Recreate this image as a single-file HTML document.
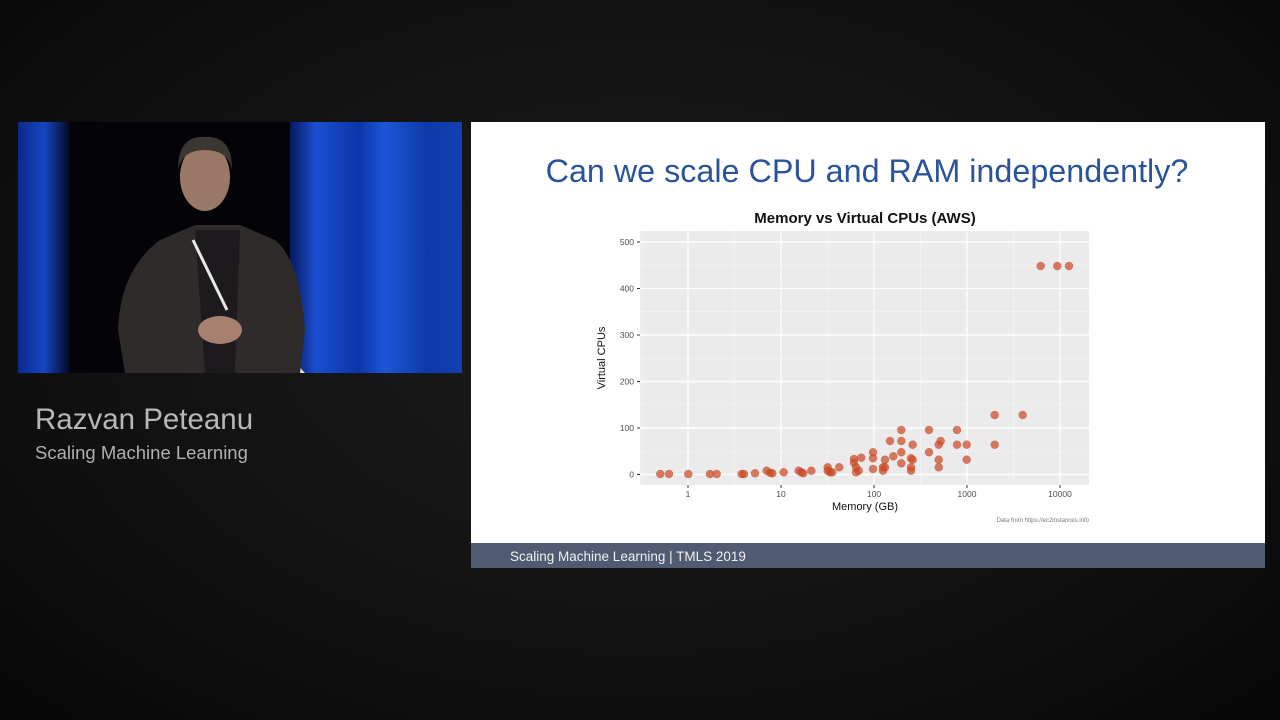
<!DOCTYPE html>
<html><head><meta charset="utf-8"><style>
html,body{margin:0;padding:0;}
body{width:1280px;height:720px;overflow:hidden;background:radial-gradient(ellipse at 50% 45%,#1c1c1c 0%,#111 60%,#070707 100%);font-family:"Liberation Sans",sans-serif;position:relative;}
.name{position:absolute;left:35px;top:403px;color:#b8b8b8;font-size:29.5px;}
.sub{position:absolute;left:35px;top:442px;color:#b0b0b0;font-size:18.5px;}
</style></head><body>
<svg width="1280" height="720" style="position:absolute;left:0;top:0">
<defs>
<linearGradient id="cl" x1="0" x2="1"><stop offset="0" stop-color="#0a2a8a"/><stop offset="0.5" stop-color="#1646c0"/><stop offset="1" stop-color="#020820"/></linearGradient>
<linearGradient id="cr" x1="0" x2="1"><stop offset="0" stop-color="#061a60"/><stop offset="0.15" stop-color="#1a4ed0"/><stop offset="0.4" stop-color="#0c36a8"/><stop offset="0.55" stop-color="#1c56d8"/><stop offset="0.8" stop-color="#0e3aa8"/><stop offset="1" stop-color="#1240b0"/></linearGradient>
</defs>
<rect x="18" y="122" width="444" height="251" fill="#030308"/>
<rect x="18" y="122" width="52" height="251" fill="url(#cl)"/>
<rect x="290" y="122" width="172" height="251" fill="url(#cr)"/>
<path d="M140 373 L150 355 L160 373Z M270 373 L280 345 L305 373Z" fill="#e8dcb0"/>
<path d="M118 330 Q120 270 160 240 L195 225 L240 225 L275 240 Q300 260 305 330 L300 373 L125 373Z" fill="#2e2b2a"/>
<path d="M195 230 L240 230 L235 373 L205 373Z" fill="#1c1a1c"/>
<ellipse cx="205" cy="177" rx="25" ry="34" fill="#9a7868"/>
<path d="M178 170 Q178 135 205 137 Q232 135 232 170 Q228 150 205 150 Q182 150 178 170Z" fill="#3a3632"/>
<ellipse cx="220" cy="330" rx="22" ry="14" fill="#a88070"/>
<line x1="193" y1="240" x2="227" y2="310" stroke="#e8e8e8" stroke-width="3"/>
<rect x="471" y="122" width="794" height="446" fill="#ffffff"/>
<rect x="471" y="543" width="794" height="25" fill="#4f5b70"/>
<text x="510" y="561" font-family="Liberation Sans,sans-serif" font-size="13.5" fill="#f0f0f0">Scaling Machine Learning | TMLS 2019</text>
<text x="867" y="182" text-anchor="middle" font-family="Liberation Sans,sans-serif" font-size="32.3" fill="#2a5499">Can we scale CPU and RAM independently?</text>
<text x="865" y="223" text-anchor="middle" font-family="Liberation Sans,sans-serif" font-size="15" font-weight="bold" fill="#111">Memory vs Virtual CPUs (AWS)</text>
<rect x="640" y="231" width="449" height="254" fill="#ebebeb"/>
<g stroke="#f7f7f7" stroke-width="0.6">
<line x1="640" x2="1089" y1="451.25" y2="451.25"/><line x1="640" x2="1089" y1="404.75" y2="404.75"/><line x1="640" x2="1089" y1="358.25" y2="358.25"/><line x1="640" x2="1089" y1="311.75" y2="311.75"/><line x1="640" x2="1089" y1="265.25" y2="265.25"/>
<line y1="231" y2="485" x1="641.5" x2="641.5"/><line y1="231" y2="485" x1="734.5" x2="734.5"/><line y1="231" y2="485" x1="827.5" x2="827.5"/><line y1="231" y2="485" x1="920.5" x2="920.5"/><line y1="231" y2="485" x1="1013.5" x2="1013.5"/>
</g>
<g stroke="#ffffff" stroke-width="1.2">
<line x1="640" x2="1089" y1="474.5" y2="474.5"/><line x1="640" x2="1089" y1="428" y2="428"/><line x1="640" x2="1089" y1="381.5" y2="381.5"/><line x1="640" x2="1089" y1="335" y2="335"/><line x1="640" x2="1089" y1="288.5" y2="288.5"/><line x1="640" x2="1089" y1="242" y2="242"/>
<line y1="231" y2="485" x1="688" x2="688"/><line y1="231" y2="485" x1="781" x2="781"/><line y1="231" y2="485" x1="874" x2="874"/><line y1="231" y2="485" x1="967" x2="967"/><line y1="231" y2="485" x1="1060" x2="1060"/>
</g>
<g stroke="#333" stroke-width="1">
<line x1="637" x2="640" y1="474.5" y2="474.5"/><line x1="637" x2="640" y1="428" y2="428"/><line x1="637" x2="640" y1="381.5" y2="381.5"/><line x1="637" x2="640" y1="335" y2="335"/><line x1="637" x2="640" y1="288.5" y2="288.5"/><line x1="637" x2="640" y1="242" y2="242"/>
<line y1="485" y2="488" x1="688" x2="688"/><line y1="485" y2="488" x1="781" x2="781"/><line y1="485" y2="488" x1="874" x2="874"/><line y1="485" y2="488" x1="967" x2="967"/><line y1="485" y2="488" x1="1060" x2="1060"/>
</g>
<g font-family="Liberation Sans,sans-serif" font-size="8.5" fill="#4d4d4d" text-anchor="end">
<text x="634" y="477.5">0</text><text x="634" y="431">100</text><text x="634" y="384.5">200</text><text x="634" y="338">300</text><text x="634" y="291.5">400</text><text x="634" y="245">500</text>
</g>
<g font-family="Liberation Sans,sans-serif" font-size="8.5" fill="#4d4d4d" text-anchor="middle">
<text x="688" y="497">1</text><text x="781" y="497">10</text><text x="874" y="497">100</text><text x="967" y="497">1000</text><text x="1060" y="497">10000</text>
</g>
<text x="865" y="510" text-anchor="middle" font-family="Liberation Sans,sans-serif" font-size="11" fill="#111">Memory (GB)</text>
<text transform="translate(605,358) rotate(-90)" text-anchor="middle" font-family="Liberation Sans,sans-serif" font-size="11" fill="#111">Virtual CPUs</text>
<text x="1089" y="522" text-anchor="end" font-family="Liberation Sans,sans-serif" font-size="6" fill="#777">Data from https://ec2instances.info</text>
<g fill="#cc4a25" fill-opacity="0.72" stroke="#b8401f" stroke-opacity="0.5" stroke-width="0.5">
<circle cx="660.3" cy="474" r="4"/><circle cx="669" cy="474" r="4"/><circle cx="688.3" cy="474" r="4"/><circle cx="710" cy="474" r="4"/><circle cx="716.7" cy="474" r="4"/><circle cx="741.7" cy="474" r="4"/><circle cx="744" cy="474" r="4"/>
<circle cx="755" cy="473.3" r="4"/><circle cx="766.7" cy="470.7" r="4"/><circle cx="770" cy="472.7" r="4"/><circle cx="772.3" cy="473.3" r="4"/><circle cx="783.7" cy="472.3" r="4"/><circle cx="798.7" cy="470.7" r="4"/><circle cx="801.3" cy="472.3" r="4"/><circle cx="803.3" cy="473.3" r="4"/><circle cx="811.3" cy="470.7" r="4"/>
<circle cx="827.7" cy="467.3" r="4"/><circle cx="827.7" cy="470.7" r="4"/><circle cx="830" cy="472.3" r="4"/><circle cx="832.3" cy="472.3" r="4"/><circle cx="839.3" cy="467.3" r="4"/>
<circle cx="854" cy="459" r="4"/><circle cx="854" cy="462.7" r="4"/><circle cx="856" cy="467.3" r="4"/><circle cx="856" cy="472.3" r="4"/><circle cx="858.7" cy="470.7" r="4"/><circle cx="861.3" cy="457.7" r="4"/>
<circle cx="873" cy="452.3" r="4"/><circle cx="873" cy="458.3" r="4"/><circle cx="873" cy="469" r="4"/><circle cx="883" cy="467.3" r="4"/><circle cx="883" cy="470.7" r="4"/><circle cx="885" cy="459.7" r="4"/><circle cx="885" cy="467.3" r="4"/>
<circle cx="890" cy="441" r="4"/><circle cx="893.3" cy="456.3" r="4"/><circle cx="901.3" cy="430" r="4"/><circle cx="901.3" cy="441" r="4"/><circle cx="901.3" cy="452.3" r="4"/><circle cx="901.3" cy="463.3" r="4"/>
<circle cx="911" cy="458.3" r="4"/><circle cx="911" cy="467.3" r="4"/><circle cx="911" cy="470.7" r="4"/><circle cx="912.7" cy="444.7" r="4"/><circle cx="912.7" cy="459.7" r="4"/>
<circle cx="929" cy="430" r="4"/><circle cx="929" cy="452.3" r="4"/><circle cx="938.7" cy="444.7" r="4"/><circle cx="938.7" cy="459.7" r="4"/><circle cx="938.7" cy="467.3" r="4"/><circle cx="940.7" cy="441" r="4"/>
<circle cx="957" cy="430" r="4"/><circle cx="957" cy="444.7" r="4"/><circle cx="966.7" cy="444.7" r="4"/><circle cx="966.7" cy="459.7" r="4"/>
<circle cx="994.7" cy="415" r="4"/><circle cx="994.7" cy="444.7" r="4"/><circle cx="1022.7" cy="415" r="4"/>
<circle cx="1040.7" cy="266" r="4"/><circle cx="1057.3" cy="266" r="4"/><circle cx="1069" cy="266" r="4"/>
</g>
</svg>
<div class="name">Razvan Peteanu</div>
<div class="sub">Scaling Machine Learning</div>
</body></html>
